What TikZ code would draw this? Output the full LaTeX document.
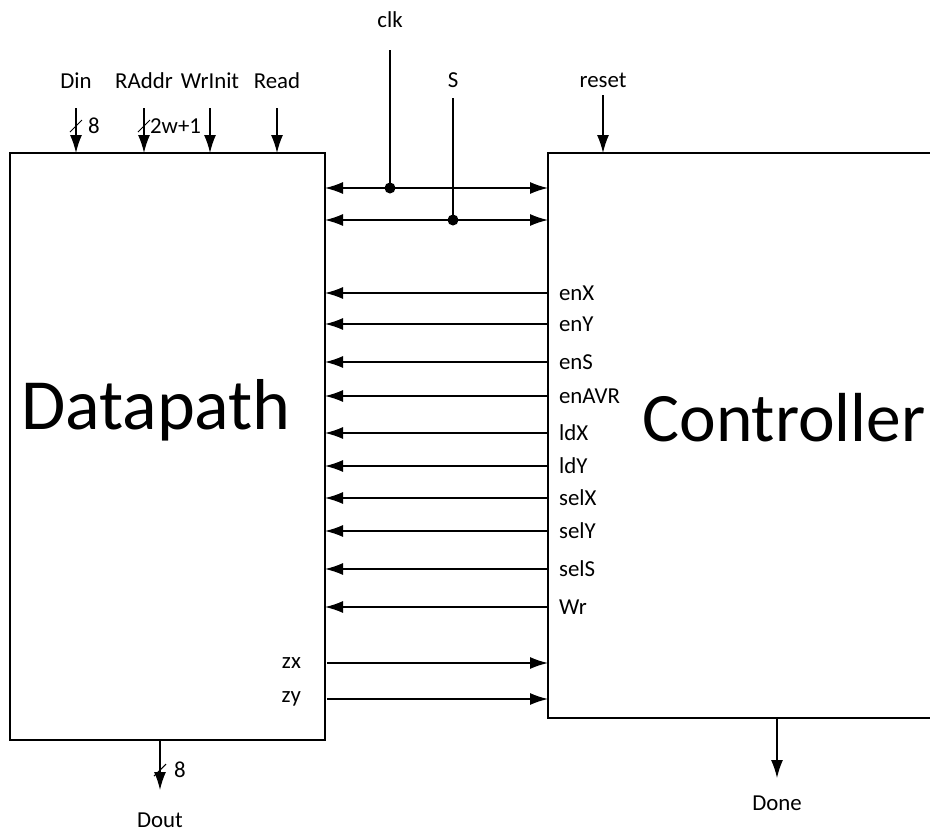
\documentclass[tikz,border=0pt]{standalone}
\usepackage{fontspec}
\setmainfont{Carlito}
\usetikzlibrary{arrows.meta, positioning}

\tikzset{
    blk/.style={draw, line width=1pt, inner sep=0pt},
    sig/.style={-{Latex[length=3.6mm, width=2.4mm]}, line width=0.8pt},
    bisig/.style={{Latex[length=3.6mm, width=2.4mm]}-{Latex[length=3.6mm, width=2.4mm]}, line width=0.8pt},
    lbl/.style={font=\fontsize{13}{15}\selectfont, inner sep=1pt},
    big/.style={font=\fontsize{41}{48}\selectfont},
    dot/.style={circle, fill, inner sep=0pt, minimum size=2.2mm}
}

\begin{document}
\begin{tikzpicture}[x=0.02cm, y=-0.02cm]
    \useasboundingbox (0,0) rectangle (930,832);
    % Blocks
    \draw[line width=1pt] (10,153) rectangle (325,740);
    \draw[line width=1pt] (960,153) -- (548,153) -- (548,718) -- (960,718);
    \node[big] (dp) at (156,410) {Datapath};
    \node[big, font=\fontsize{39.5}{48}\selectfont] (ctl) at (784,418) {Controller};

    % Datapath inputs
    \foreach \name/\x in {din/76, raddr/144, wrinit/210, read/277} {
        \coordinate (\name-in) at (\x,153);
        \coordinate (\name-top) at (\x,108);
        \draw[sig] (\name-top) -- (\name-in);
    }
    \node[lbl] (din) at (76,81) {Din};
    \node[lbl] (raddr) at (144,81) {RAddr};
    \node[lbl] (wrinit) at (210,81) {WrInit};
    \node[lbl] (read) at (277,81) {Read};
    % bus widths
    \draw[line width=0.6pt] (70,132) -- (82,120);
    \node[lbl, anchor=west] (w8) at (86,126) {8};
    \draw[line width=0.6pt] (138,132) -- (150,120);
    \node[lbl, anchor=west] (w2w) at (148,126) {2w+1};

    % clk and S
    \node[lbl] (clk) at (390,20) {clk};
    \node[lbl] (s) at (453,80) {S};
    \coordinate (clk-dp) at (325,188);
    \coordinate (clk-ctl) at (548,188);
    \coordinate (s-dp) at (325,220);
    \coordinate (s-ctl) at (548,220);
    \node[dot] (clkdot) at (390,188) {};
    \node[dot] (sdot) at (453,220) {};
    \draw[bisig] (clk-dp) -- (clk-ctl);
    \draw[bisig] (s-dp) -- (s-ctl);
    \draw[line width=0.8pt] (390,50) -- (clkdot.center);
    \draw[line width=0.8pt] (453,98) -- (sdot.center);

    % reset
    \node[lbl] (reset) at (603,80) {reset};
    \coordinate (reset-in) at (603,153);
    \draw[sig] (603,95) -- (reset-in);

    % Control signals
    \foreach \name/\y in {enX/293, enY/324, enS/362, enAVR/396, ldX/433,
                          ldY/466, selX/498, selY/531, selS/569, Wr/607} {
        \coordinate (\name-c) at (548,\y);
        \coordinate (\name-d) at (325,\y);
        \draw[sig] (\name-c) -- (\name-d);
        \node[lbl, anchor=west] (\name) at (557,\y) {\name};
    }

    % Status signals
    \foreach \name/\y in {zx/663, zy/699} {
        \coordinate (\name-d) at (327,\y);
        \coordinate (\name-c) at (548,\y);
        \draw[sig] (\name-d) -- (\name-c);
        \node[lbl, anchor=east] (\name) at (303,\y) {\name};
    }

    % Outputs
    \coordinate (dout-out) at (160,740);
    \coordinate (dout-end) at (160,790);
    \draw[sig] (dout-out) -- (dout-end);
    \draw[line width=0.6pt] (154,776) -- (166,764);
    \node[lbl, anchor=west] (w8out) at (172,770) {8};
    \node[lbl] (dout) at (160,820) {Dout};

    \coordinate (done-out) at (777,718);
    \coordinate (done-end) at (777,778);
    \draw[sig] (done-out) -- (done-end);
    \node[lbl] (done) at (777,803) {Done};
\end{tikzpicture}
\end{document}
